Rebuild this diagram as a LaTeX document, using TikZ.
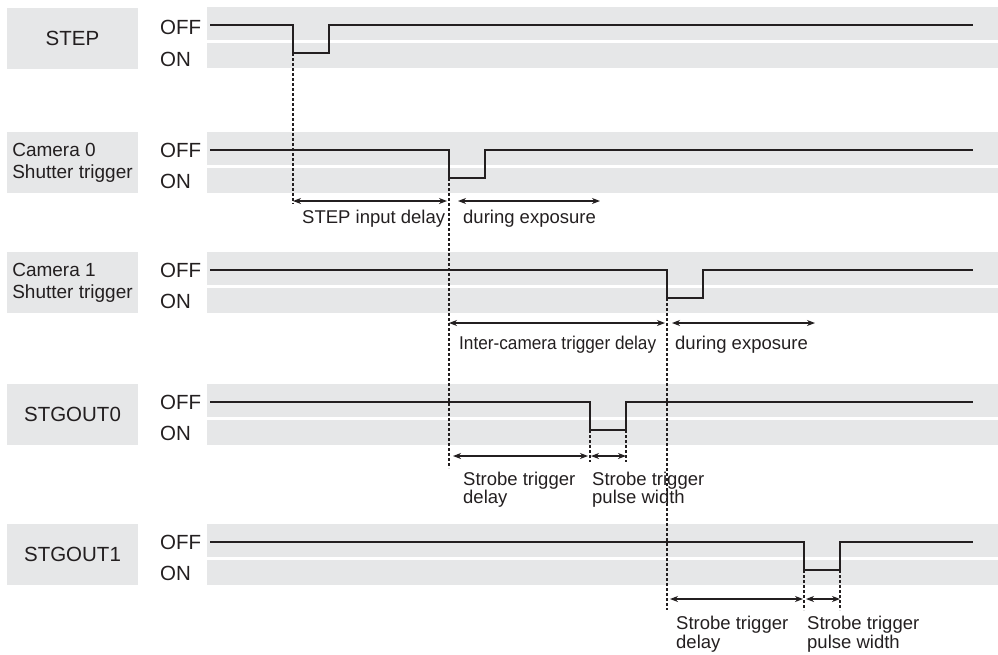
\documentclass[tikz,border=0pt]{standalone}
\usepackage{fontspec}
\setmainfont{Liberation Sans}
\newfontfamily\narrowsans[FakeStretch=0.93]{Liberation Sans}
\usetikzlibrary{arrows.meta}
\definecolor{bandgray}{HTML}{E6E7E8}
\definecolor{inkdark}{HTML}{231F20}

\begin{document}
\begin{tikzpicture}[
        x=1pt, y=-1pt,
        band/.style={fill=bandgray},
        signame/.style={rectangle, fill=bandgray, minimum width=131pt, minimum height=61pt, inner sep=0pt, align=left, text=inkdark, font=\fontsize{20.5}{23}\selectfont},
        level/.style={anchor=west, inner sep=0pt, text=inkdark, font=\fontsize{20.5}{23}\selectfont},
        signal/.style={line width=2.7pt, draw=inkdark, line join=miter},
        guide/.style={line width=1.4pt, draw=inkdark, dash pattern=on 3pt off 2pt},
        span/.style={{Stealth[length=8pt, width=6pt, inset=2.5pt]}-{Stealth[length=8pt, width=6pt, inset=2.5pt]}, line width=1.2pt, draw=inkdark},
        note/.style={anchor=base west, inner sep=0pt, align=left, text=inkdark, font=\fontsize{18.5}{18}\selectfont}
    ]
    \useasboundingbox (0,0) rectangle (998,654);

    % Grey bands (OFF / ON) for each signal
    \fill[band] (207,7) rectangle (998,40);   \fill[band] (207,43) rectangle (998,68);
    \fill[band] (207,132) rectangle (998,165); \fill[band] (207,168) rectangle (998,193);
    \fill[band] (207,252) rectangle (998,285); \fill[band] (207,288) rectangle (998,313);
    \fill[band] (207,384) rectangle (998,417); \fill[band] (207,420) rectangle (998,445);
    \fill[band] (207,524) rectangle (998,557); \fill[band] (207,560) rectangle (998,585);

    % Signal names
    \node (step-name) [signame] at (72.5,38.5) {STEP};
    \node (cam0-name) [signame, font=\fontsize{19}{22}\selectfont] at (72.5,162.5) {Camera 0\\Shutter trigger};
    \node (cam1-name) [signame, font=\fontsize{19}{22}\selectfont] at (72.5,282.5) {Camera 1\\Shutter trigger};
    \node (out0-name) [signame] at (72.5,414.5) {STGOUT0};
    \node (out1-name) [signame] at (72.5,554.5) {STGOUT1};

    % OFF / ON levels
    \node (step-off) [level] at (160,27) {OFF};  \node (step-on) [level] at (160,59) {ON};
    \node (cam0-off) [level] at (160,150) {OFF}; \node (cam0-on) [level] at (160,181) {ON};
    \node (cam1-off) [level] at (160,270) {OFF}; \node (cam1-on) [level] at (160,301) {ON};
    \node (out0-off) [level] at (160,402) {OFF}; \node (out0-on) [level] at (160,433) {ON};
    \node (out1-off) [level] at (160,542) {OFF}; \node (out1-on) [level] at (160,573) {ON};

    % Pulse corners
    \coordinate (step-down) at (293,53);  \coordinate (step-up) at (329,53);
    \coordinate (cam0-down) at (449,178); \coordinate (cam0-up) at (485,178);
    \coordinate (cam1-down) at (667,298); \coordinate (cam1-up) at (703,298);
    \coordinate (out0-down) at (590,430); \coordinate (out0-up) at (626,430);
    \coordinate (out1-down) at (804,570); \coordinate (out1-up) at (840,570);

    % Waveforms
    \draw[signal] (210,25) -| (step-down) -- (step-up) |- (973,25);
    \draw[signal] (210,150) -| (cam0-down) -- (cam0-up) |- (973,150);
    \draw[signal] (210,270) -| (cam1-down) -- (cam1-up) |- (973,270);
    \draw[signal] (210,402) -| (out0-down) -- (out0-up) |- (973,402);
    \draw[signal] (210,542) -| (out1-down) -- (out1-up) |- (973,542);

    % Dotted guides
    \coordinate (step-end) at (293,204);
    \coordinate (cam0-end) at (449,468);
    \coordinate (cam1-end) at (667,610);
    \draw[guide] (step-down) -- (step-end);
    \draw[guide] (cam0-down) -- (cam0-end);
    \draw[guide] (cam1-down) -- (cam1-end);
    \draw[guide] (out0-down) -- ++(0,32);
    \draw[guide] (out0-up) -- ++(0,32);
    \draw[guide] (out1-down) -- ++(0,40);
    \draw[guide] (out1-up) -- ++(0,40);

    % Arrow levels and free ends
    \coordinate (lvl-cam0) at (0,201);
    \coordinate (lvl-cam1) at (0,323);
    \coordinate (lvl-out0) at (0,456);
    \coordinate (lvl-out1) at (0,599);
    \coordinate (cam0-expo) at (600,201);
    \coordinate (cam1-expo) at (815,323);

    % Timing spans
    \draw[span, shorten >=2pt] (step-down |- lvl-cam0) -- (cam0-down |- lvl-cam0);
    \draw[span, shorten <=9pt] (cam0-down |- lvl-cam0) -- (cam0-expo);
    \draw[span, shorten >=2pt] (cam0-down |- lvl-cam1) -- (cam1-down |- lvl-cam1);
    \draw[span, shorten <=5pt] (cam1-down |- lvl-cam1) -- (cam1-expo);
    \draw[span, shorten <=4pt, shorten >=2pt] (cam0-down |- lvl-out0) -- (out0-down |- lvl-out0);
    \draw[span, shorten <=1pt] (out0-down |- lvl-out0) -- (out0-up |- lvl-out0);
    \draw[span, shorten <=3pt, shorten >=1pt] (cam1-down |- lvl-out1) -- (out1-down |- lvl-out1);
    \draw[span, shorten <=2pt] (out1-down |- lvl-out1) -- (out1-up |- lvl-out1);

    % Span labels
    \node (step-delay) [note] at (302,223) {STEP input delay};
    \node (cam0-exposure) [note] at (463,223) {during exposure};
    \node (inter-delay) [note, font=\narrowsans\fontsize{18.5}{18}\selectfont] at (459,349) {Inter-camera trigger delay};
    \node (cam1-exposure) [note] at (675,349) {during exposure};
    \node (out0-delay) [note] at (463,503) {Strobe trigger\\delay};
    \node (out0-width) [note] at (592,503) {Strobe trigger\\pulse width};
    \node (out1-delay) [note, font=\fontsize{18.5}{15.5}\selectfont] at (676,648) {Strobe trigger\\delay};
    \node (out1-width) [note, font=\fontsize{18.5}{15.5}\selectfont] at (807,648) {Strobe trigger\\pulse width};
\end{tikzpicture}
\end{document}
